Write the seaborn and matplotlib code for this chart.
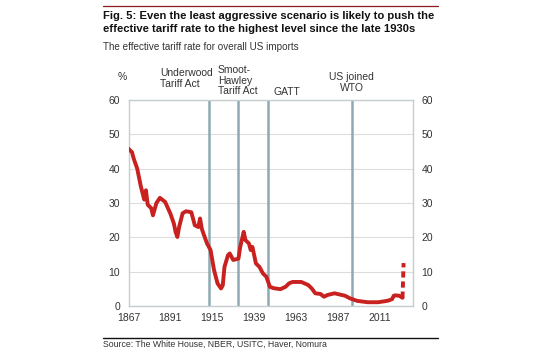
import numpy as np
import pandas as pd
import matplotlib.pyplot as plt
import seaborn as sns

# effective tariff rate, %
years = [1867, 1869, 1870, 1872, 1874, 1876, 1877, 1878, 1880, 1881, 1883, 1885, 1888,
         1891, 1893, 1894, 1895, 1896, 1898, 1900, 1903, 1905, 1907, 1908, 1909, 1910,
         1912, 1914, 1916, 1918, 1920, 1921, 1922, 1924, 1925, 1927, 1930, 1931, 1933,
         1934, 1936, 1937, 1938, 1940, 1942, 1944, 1946, 1948, 1950, 1954, 1957, 1959,
         1961, 1966, 1970, 1972, 1974, 1977, 1979, 1981, 1985, 1991, 1994, 1998, 2004,
         2010, 2014, 2016, 2018, 2019, 2020, 2022, 2023, 2024]
rate = [45.8, 44.8, 42.9, 40.0, 35.0, 31.0, 33.7, 29.5, 28.5, 26.4, 30.0, 31.5, 30.3,
        26.9, 24.0, 21.5, 20.1, 23.0, 27.0, 27.6, 27.3, 23.5, 23.0, 25.5, 22.5, 21.0,
        18.2, 16.3, 10.5, 6.6, 5.1, 6.0, 11.4, 14.8, 15.3, 13.4, 13.8, 17.2, 21.6,
        19.2, 18.2, 16.3, 17.2, 12.4, 11.4, 9.5, 8.5, 5.6, 5.2, 4.9, 5.6, 6.6,
        7.0, 7.0, 6.1, 5.1, 3.7, 3.5, 2.7, 3.2, 3.7, 3.0, 2.2, 1.5, 1.1,
        1.1, 1.4, 1.6, 2.0, 3.0, 3.1, 3.0, 2.7, 2.4]
proj_years = [2024, 2024.6]
proj_rate = [2.4, 12.5]

events = [1913, 1930, 1947, 1995]
xticks = [1867, 1891, 1915, 1939, 1963, 1987, 2011]

df = pd.DataFrame({"year": years, "rate": rate})
proj = pd.DataFrame({"year": proj_years, "rate": proj_rate})

sns.set_style("white")
plt.rcParams["font.family"] = ["Liberation Sans", "DejaVu Sans"]

red = "#c8211f"
txt = "#333333"
W, H = 547, 360

fig = plt.figure(figsize=(5.47, 3.60), dpi=100)
ax = fig.add_axes([128.5 / W, 0.15, 284.5 / W, 206 / H])

for e in events:
    ax.axvline(e, color="#8ea9b3", lw=1.8, zorder=1)

sns.lineplot(data=df, x="year", y="rate", color=red, lw=2.8, ax=ax, zorder=3)
sns.lineplot(data=proj, x="year", y="rate", color=red, lw=2.8, ax=ax, zorder=3,
             linestyle=(0, (1.6, 1.0)))

ax.set_xlim(1867, 2030)
ax.set_ylim(0, 60)
ax.set_yticks(range(0, 61, 10))
ax.set_xticks(xticks)
ax.yaxis.grid(True, color="#dcdcdc", lw=0.8)
ax.set_xlabel("")
ax.set_ylabel("")
for s in ax.spines.values():
    s.set_color("#c5cdd0")
    s.set_linewidth(1.0)
ax.tick_params(axis="both", labelsize=7.5, colors=txt, length=0, pad=6)
ax.tick_params(axis="x", length=2, direction="in", color="#b0b0b0", pad=5)
ax.tick_params(axis="y", labelright=True, right=False)


def ftext(px, py, s, **kw):
    # place text at pixel position of the 547x360 canvas
    fig.text(px / W, 1 - py / H, s, **kw)


# annotations above the plot
ann = dict(fontsize=7.5, color=txt, va="center", linespacing=1.05)
ftext(122.7, 76.7, "%", ha="center", **ann)
ftext(160, 78.7, "Underwood\nTariff Act", ha="left", **ann)
ftext(218, 80.5, "Smoot-\nHawley\nTariff Act", ha="left", **ann)
ftext(273, 91.7, "GATT", ha="left", **ann)
ftext(351.7, 82.5, "US joined\nWTO", ha="center", multialignment="center", **ann)

fig.add_artist(plt.Line2D([103 / W, 438 / W], [1 - 6 / H, 1 - 6 / H], color="#8b1a1a", lw=0.9))
title = dict(fontsize=8.1, fontweight="bold", color="#111111", va="center")
ftext(103, 16, "Fig. 5: Even the least aggressive scenario is likely to push the", **title)
ftext(103, 29.5, "effective tariff rate to the highest level since the late 1930s", **title)
ftext(103, 46.7, "The effective tariff rate for overall US imports",
      fontsize=7.1, color=txt, va="center")
fig.add_artist(plt.Line2D([103 / W, 438 / W], [1 - 337.5 / H, 1 - 337.5 / H], color="#111111", lw=1.0))
ftext(103, 344.5, "Source: The White House, NBER, USITC, Haver, Nomura",
      fontsize=6.3, color=txt, va="center")

fig.savefig("out.png", dpi=100)
